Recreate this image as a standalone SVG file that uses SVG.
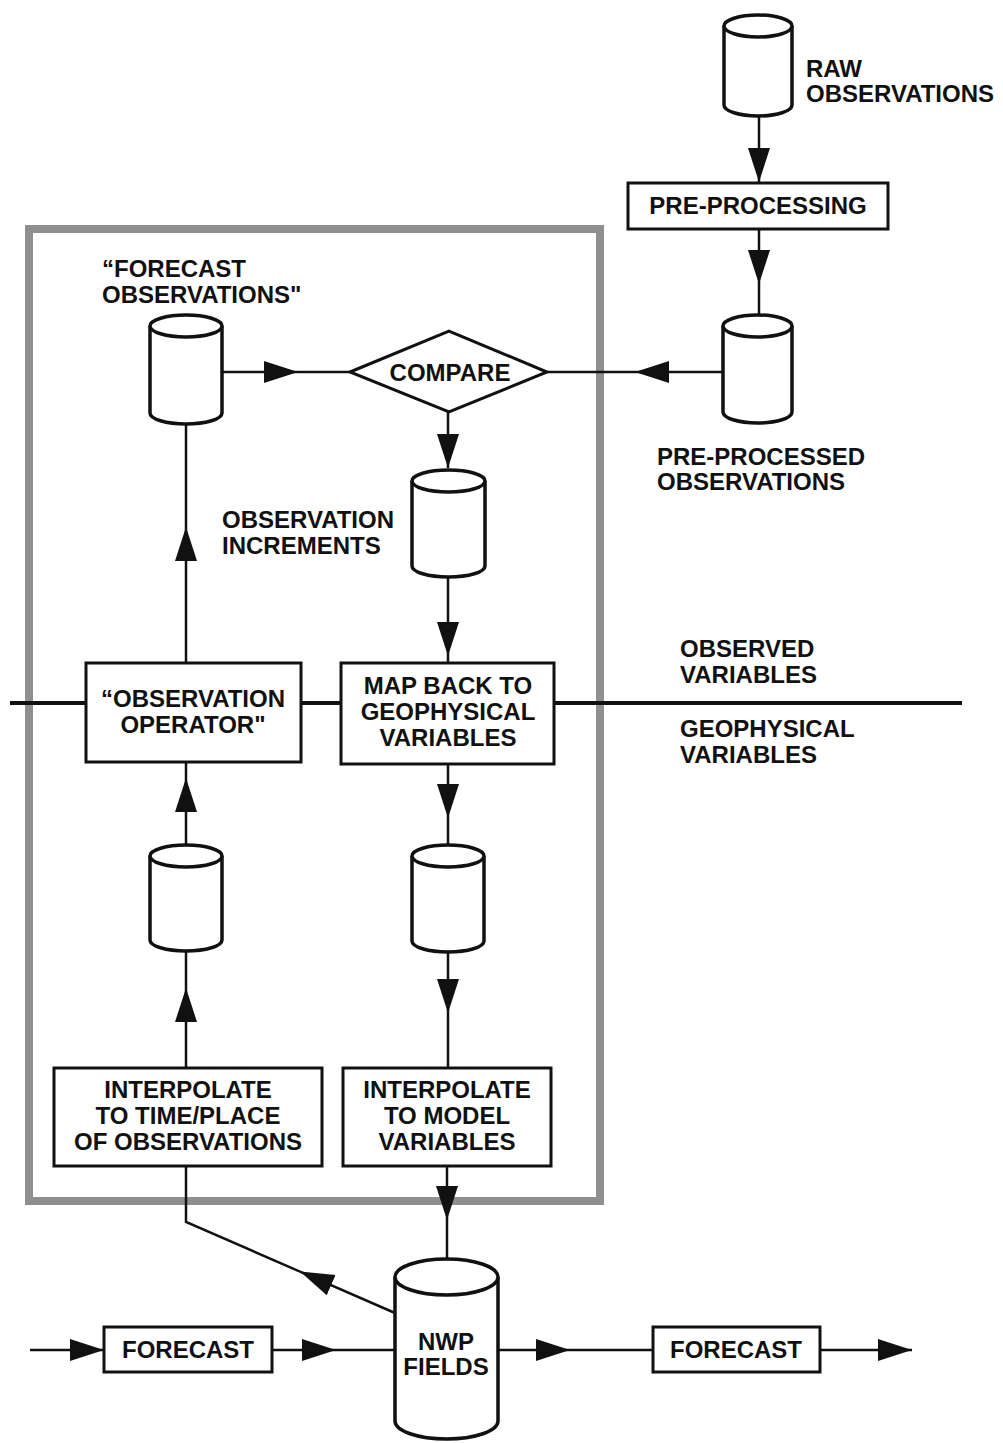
<svg xmlns="http://www.w3.org/2000/svg" width="1003" height="1443" viewBox="0 0 1003 1443">
<defs>
<marker id="ah" markerUnits="userSpaceOnUse" markerWidth="36" markerHeight="24" refX="34" refY="11" orient="auto"><path d="M0,0 L34,11 L0,22 z" fill="#111"/></marker>
<style>
text{font-family:"Liberation Sans",Arial,Helvetica,sans-serif;font-weight:bold;font-size:24px;fill:#111}
.c{text-anchor:middle}
.box{fill:#fff;stroke:#111;stroke-width:3}
.cyl{fill:#fff;stroke:#111;stroke-width:3.5}
.ln{fill:none;stroke:#111;stroke-width:2.5}
.arr{fill:none;stroke:#111;stroke-width:2.5;marker-end:url(#ah)}
.div{stroke:#111;stroke-width:4}
</style>
</defs>
<rect width="1003" height="1443" fill="#fff"/>
<rect id="frame" x="29" y="229" width="571" height="972" fill="none" stroke="#8f8f8f" stroke-width="8"/>
<g id="connectors">
<line class="div" x1="10" y1="703" x2="962" y2="703"/>
<line class="arr" x1="759" y1="116" x2="759" y2="182"/>
<line class="arr" x1="759" y1="229" x2="759" y2="284"/><line class="ln" x1="759" y1="284" x2="759" y2="315"/>
<line class="arr" x1="723" y1="372" x2="635" y2="372"/><line class="ln" x1="635" y1="372" x2="547" y2="372"/>
<line class="arr" x1="222" y1="372" x2="298" y2="372"/><line class="ln" x1="298" y1="372" x2="350" y2="372"/>
<line class="arr" x1="448" y1="412" x2="448" y2="468"/>
<line class="arr" x1="448" y1="577" x2="448" y2="656"/><line class="ln" x1="448" y1="656" x2="448" y2="663"/>
<line class="arr" x1="186" y1="663" x2="186" y2="527"/><line class="ln" x1="186" y1="527" x2="186" y2="424"/>
<line class="arr" x1="448" y1="764" x2="448" y2="818"/><line class="ln" x1="448" y1="818" x2="448" y2="845"/>
<line class="arr" x1="186" y1="845" x2="186" y2="778"/><line class="ln" x1="186" y1="778" x2="186" y2="762"/>
<line class="arr" x1="448" y1="952" x2="448" y2="1013"/><line class="ln" x1="448" y1="1013" x2="448" y2="1068"/>
<line class="arr" x1="186" y1="1068" x2="186" y2="988"/><line class="ln" x1="186" y1="988" x2="186" y2="951"/>
<line class="arr" x1="447" y1="1166" x2="447" y2="1220"/><line class="ln" x1="447" y1="1220" x2="447" y2="1259"/>
<line class="arr" x1="395" y1="1313" x2="300" y2="1271.6"/><polyline class="ln" points="300,1271.6 186,1222 186,1166"/>
<line class="arr" x1="30" y1="1350" x2="104" y2="1350"/>
<line class="arr" x1="272" y1="1350" x2="336" y2="1350"/><line class="ln" x1="336" y1="1350" x2="395" y2="1350"/>
<line class="arr" x1="498" y1="1350" x2="570" y2="1350"/><line class="ln" x1="570" y1="1350" x2="653" y2="1350"/>
<line class="arr" x1="820" y1="1350" x2="912" y2="1350"/>
</g>
<g id="raw-observations">
<path class="cyl" d="M724,26 V105 A34,11 0 0 0 792,105 V26"/><ellipse class="cyl" cx="758" cy="26" rx="34" ry="11"/>
<text x="806" y="77">RAW</text><text x="806" y="102">OBSERVATIONS</text>
</g>
<g id="pre-processing">
<rect class="box" x="628" y="183" width="260" height="46"/>
<text class="c" x="758" y="214">PRE-PROCESSING</text>
</g>
<g id="pre-processed-observations">
<path class="cyl" d="M723,326 V412 A34.5,11 0 0 0 792,412 V326"/><ellipse class="cyl" cx="757.5" cy="326" rx="34.5" ry="11"/>
<text x="657" y="465">PRE-PROCESSED</text><text x="657" y="490">OBSERVATIONS</text>
</g>
<g id="forecast-observations">
<path class="cyl" d="M150,326 V413 A36,11 0 0 0 222,413 V326"/><ellipse class="cyl" cx="186" cy="326" rx="36" ry="11"/>
<text x="102" y="277">“FORECAST</text><text x="102" y="303">OBSERVATIONS"</text>
</g>
<g id="compare">
<polygon class="box" points="350,372 449,331 547,372 449,412"/>
<text class="c" x="450" y="381">COMPARE</text>
</g>
<g id="observation-increments">
<path class="cyl" d="M412,481 V566 A36.5,11 0 0 0 485,566 V481"/><ellipse class="cyl" cx="448.5" cy="481" rx="36.5" ry="11"/>
<text x="222" y="528">OBSERVATION</text><text x="222" y="554">INCREMENTS</text>
</g>
<g id="observation-operator">
<rect class="box" x="86" y="663" width="215" height="99"/>
<text class="c" x="193" y="707">“OBSERVATION</text><text class="c" x="193" y="733">OPERATOR"</text>
</g>
<g id="map-back">
<rect class="box" x="341" y="663" width="213" height="101"/>
<text class="c" x="448" y="694">MAP BACK TO</text><text class="c" x="448" y="720">GEOPHYSICAL</text><text class="c" x="448" y="746">VARIABLES</text>
</g>
<g id="variable-labels">
<text x="680" y="657">OBSERVED</text><text x="680" y="683">VARIABLES</text>
<text x="680" y="737">GEOPHYSICAL</text><text x="680" y="763">VARIABLES</text>
</g>
<g id="store-left">
<path class="cyl" d="M150,856 V940 A36,11 0 0 0 222,940 V856"/><ellipse class="cyl" cx="186" cy="856" rx="36" ry="11"/>
</g>
<g id="store-right">
<path class="cyl" d="M412,856 V941 A36,11 0 0 0 484,941 V856"/><ellipse class="cyl" cx="448" cy="856" rx="36" ry="11"/>
</g>
<g id="interpolate-time-place">
<rect class="box" x="54" y="1068" width="268" height="98"/>
<text class="c" x="188" y="1098">INTERPOLATE</text><text class="c" x="188" y="1124">TO TIME/PLACE</text><text class="c" x="188" y="1150">OF OBSERVATIONS</text>
</g>
<g id="interpolate-model">
<rect class="box" x="343" y="1068" width="208" height="98"/>
<text class="c" x="447" y="1098">INTERPOLATE</text><text class="c" x="447" y="1124">TO MODEL</text><text class="c" x="447" y="1150">VARIABLES</text>
</g>
<g id="nwp-fields">
<path class="cyl" d="M395,1277 V1421 A51.5,18 0 0 0 498,1421 V1277"/><ellipse class="cyl" cx="446.5" cy="1277" rx="51.5" ry="18"/>
<text class="c" x="446" y="1350">NWP</text><text class="c" x="446" y="1375">FIELDS</text>
</g>
<g id="forecast-1">
<rect class="box" x="104" y="1327" width="168" height="45"/>
<text class="c" x="188" y="1358">FORECAST</text>
</g>
<g id="forecast-2">
<rect class="box" x="653" y="1327" width="167" height="45"/>
<text class="c" x="736" y="1358">FORECAST</text>
</g>
</svg>
